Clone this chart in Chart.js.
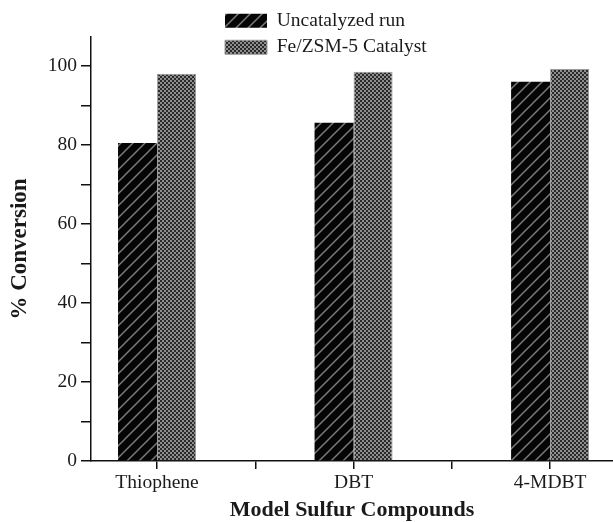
<!DOCTYPE html>
<html>
<head>
<meta charset="utf-8">
<script src="https://cdn.jsdelivr.net/npm/chart.js@4.4.1/dist/chart.umd.min.js"></script>
<style>
  body { margin: 0; background: #fff; }
</style>
</head>
<body>
<canvas id="bar_graph" width="613" height="522"></canvas>
<script>
var categories = ["Thiophene", "DBT", "4-MDBT"];
var categoryPos = [1, 2, 3];
var seriesNames = ["Uncatalyzed run", "Fe/ZSM-5 Catalyst"];
var uncatalyzed = [80.5, 85.6, 96.0];
var catalyzed = [98.0, 98.5, 99.2];
var yTicks = [0, 10, 20, 30, 40, 50, 60, 70, 80, 90, 100];
var xTicks = [1, 1.5, 2, 2.5, 3];

// hatched black fill  ///
function makeHatch() {
  var c = document.createElement("canvas");
  c.width = 12;
  c.height = 12;
  var g = c.getContext("2d");
  g.fillStyle = "#050505";
  g.fillRect(0, 0, 12, 12);
  g.strokeStyle = "#7a7a7a";
  g.lineWidth = 1.5;
  g.beginPath();
  g.moveTo(0, 12); g.lineTo(12, 0);
  g.moveTo(-6, 6); g.lineTo(6, -6);
  g.moveTo(6, 18); g.lineTo(18, 6);
  g.stroke();
  return g.createPattern(c, "repeat");
}

// fine checker grey fill
function makeChecker() {
  var c = document.createElement("canvas");
  c.width = 4;
  c.height = 4;
  var g = c.getContext("2d");
  g.fillStyle = "#8e8e8e";
  g.fillRect(0, 0, 4, 4);
  g.fillStyle = "#2a2a2a";
  g.fillRect(0, 0, 2, 2);
  g.fillRect(2, 2, 2, 2);
  return g.createPattern(c, "repeat");
}

Chart.defaults.font.family = "'Liberation Serif', 'Times New Roman', serif";
Chart.defaults.font.size = 19.5;
Chart.defaults.color = "#1a1a1a";

// put the stacked legend above the plot, centred like the original
const legendSpot = {
  id: "legendSpot",
  afterLayout(chart) {
    const lg = chart.legend;
    lg.left = 218;
    lg.top = 4;
    lg.right = 613;
    lg.bottom = 66;
  }
};

const ctx = document.getElementById("bar_graph");

new Chart(ctx, {
  type: "bar",
  data: {
    datasets: [
      {
        label: seriesNames[0],
        data: categoryPos.map((p, i) => ({ x: p, y: uncatalyzed[i] })),
        backgroundColor: makeHatch(),
        borderWidth: 0,
      },
      {
        label: seriesNames[1],
        data: categoryPos.map((p, i) => ({ x: p, y: catalyzed[i] })),
        backgroundColor: makeChecker(),
        borderColor: "#9a9a9a",
        borderWidth: 1,
      },
    ],
  },
  options: {
    responsive: false,
    animation: false,
    categoryPercentage: 0.794,
    barPercentage: 1,
    layout: { padding: { top: 37, left: 0, right: 0, bottom: 0 } },
    plugins: {
      tooltip: { enabled: false },
      legend: {
        position: "chartArea",
        align: "start",
        labels: {
          boxWidth: 42,
          boxHeight: 14,
          padding: 7,
          font: { size: 19.5 },
        },
      },
    },
    scales: {
      x: {
        type: "linear",
        offset: false,
        min: 0.664,
        max: 3.32,
        afterBuildTicks: (s) => { s.ticks = xTicks.map((v) => ({ value: v })); },
        afterFit: (s) => { s.height = 61; },
        ticks: {
          autoSkip: false,
          maxRotation: 0,
          minRotation: 0,
          padding: 2,
          callback: (v) => (Number.isInteger(v) ? categories[v - 1] : ""),
        },
        grid: { offset: false, drawOnChartArea: false, tickLength: 8, color: "#111", lineWidth: 1.5 },
        border: { color: "#111", width: 1.5 },
        title: {
          display: true,
          text: "Model Sulfur Compounds",
          font: { size: 22, weight: "bold" },
          padding: { top: 0, bottom: -2 },
        },
      },
      y: {
        min: 0,
        max: 107.3,
        afterBuildTicks: (s) => { s.ticks = yTicks.map((v) => ({ value: v })); },
        afterFit: (s) => { s.width = 91; },
        ticks: {
          padding: 4,
          callback: (v) => (v % 20 === 0 ? v : ""),
        },
        grid: { drawOnChartArea: false, tickLength: 10, color: "#111", lineWidth: 1.5 },
        border: { color: "#111", width: 1.5 },
        title: {
          display: true,
          text: "% Conversion",
          font: { size: 23, weight: "bold" },
          padding: { top: 6, bottom: 0 },
        },
      },
    },
  },
  plugins: [legendSpot],
});
</script>
</body>
</html>
